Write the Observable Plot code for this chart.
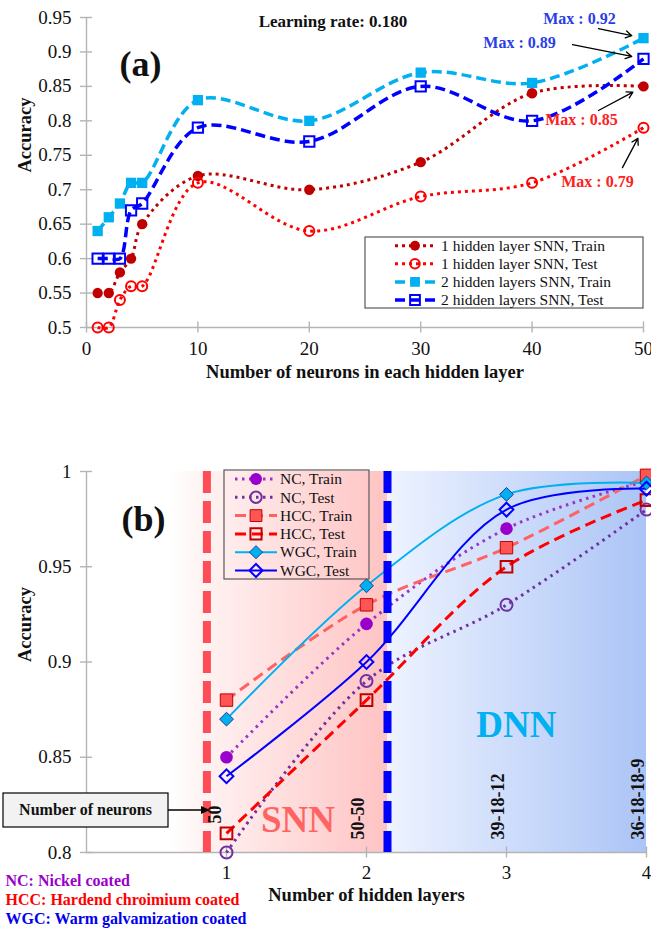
<!DOCTYPE html>
<html><head><meta charset="utf-8">
<script src="https://cdn.jsdelivr.net/npm/d3@7"></script>
<script src="https://cdn.jsdelivr.net/npm/@observablehq/plot@0.6"></script>
<style>
body{margin:0;background:#fff;}
#chart{width:651px;height:935px;position:relative;overflow:hidden;background:#fff;}
#chart svg{display:block;}
</style></head><body><div id="chart"></div>
<script>
// ---------------- Panel (a) data ----------------
const neurons = [1, 2, 3, 4, 5, 10, 20, 30, 40, 50];
const snn1Train = [0.55, 0.55, 0.58, 0.60, 0.65, 0.72, 0.70, 0.74, 0.84, 0.85];
const snn1Test  = [0.50, 0.50, 0.54, 0.56, 0.56, 0.71, 0.64, 0.69, 0.71, 0.79];
const snn2Train = [0.64, 0.66, 0.68, 0.71, 0.71, 0.83, 0.80, 0.87, 0.855, 0.92];
const snn2Test  = [0.60, 0.60, 0.60, 0.67, 0.68, 0.79, 0.77, 0.85, 0.80, 0.89];
const seriesNamesA = ["1 hidden layer SNN, Train", "1 hidden layer SNN, Test", "2 hidden layers SNN, Train", "2 hidden layers SNN, Test"];
const xTicksA = [0, 10, 20, 30, 40, 50];
const yTicksA = [0.5, 0.55, 0.6, 0.65, 0.7, 0.75, 0.8, 0.85, 0.9, 0.95];
const titleA = "Learning rate: 0.180";
const xLabelA = "Number of neurons in each hidden layer";
const yLabel = "Accuracy";
const maxLabels = ["Max : 0.92", "Max : 0.89", "Max : 0.85", "Max : 0.79"];

// ---------------- Panel (b) data ----------------
const layers = [1, 2, 3, 4];
const layerNeurons = ["50", "50-50", "39-18-12", "36-18-18-9"];
const ncTrain  = [0.85, 0.92, 0.97, 0.995];
const ncTest   = [0.80, 0.89, 0.93, 0.98];
const hccTrain = [0.88, 0.93, 0.96, 0.998];
const hccTest  = [0.81, 0.88, 0.95, 0.985];
const wgcTrain = [0.87, 0.94, 0.988, 0.994];
const wgcTest  = [0.84, 0.90, 0.98, 0.991];
const seriesNamesB = ["NC, Train", "NC, Test", "HCC, Train", "HCC, Test", "WGC, Train", "WGC, Test"];
const xTicksB = [1, 2, 3, 4];
const yTicksB = [0.8, 0.85, 0.9, 0.95, 1];
const xLabelB = "Number of hidden layers";
const coatingNotes = ["NC: Nickel coated", "HCC: Hardend chroimium coated", "WGC: Warm galvamization coated"];

// ---------------- styles & annotation placement ----------------
const FONT = "'Liberation Serif', 'Times New Roman', serif";
const axisGray = "#b4b4b4";
const fmt = d => String(+d.toFixed(2));
const diamondSymbol = {draw(ctx, size) {const r = Math.sqrt(size / 2); ctx.moveTo(0, -r); ctx.lineTo(r, 0); ctx.lineTo(0, r); ctx.lineTo(-r, 0); ctx.closePath();}};
const symbols = {circle: d3.symbolCircle, square: d3.symbolSquare, diamond: diamondSymbol};

const styleA = [
  {stroke: "#C00000", dash: "3,4", width: 3, symbol: "circle", r: 5.2, fill: "#C00000", mStroke: "none", mWidth: 0},
  {stroke: "#FF0000", dash: "3,4", width: 3, symbol: "circle", r: 5, fill: "none", mStroke: "#FF0000", mWidth: 2},
  {stroke: "#00B0F0", dash: "10,5", width: 3.5, symbol: "square", r: 5.8, fill: "#00B0F0", mStroke: "none", mWidth: 0},
  {stroke: "#0000FF", dash: "10,5", width: 3.5, symbol: "square", r: 5.8, fill: "none", mStroke: "#0000FF", mWidth: 2}
];
const styleB = [
  {stroke: "#9933CC", dash: "2.5,4.5", width: 3, symbol: "circle", r: 6.3, fill: "#9900CC", mStroke: "none", mWidth: 0},
  {stroke: "#7030A0", dash: "2.5,4.5", width: 3, symbol: "circle", r: 6, fill: "none", mStroke: "#7030A0", mWidth: 2},
  {stroke: "#FF6262", dash: "11,6", width: 3, symbol: "square", r: 7, fill: "#FF5555", mStroke: "#C00000", mWidth: 1},
  {stroke: "#FF0000", dash: "11,6", width: 3, symbol: "square", r: 6.6, fill: "none", mStroke: "#C00000", mWidth: 2},
  {stroke: "#00B0F0", dash: null, width: 2, symbol: "diamond", r: 5.5, fill: "#00B0F0", mStroke: "#1F3A93", mWidth: 1},
  {stroke: "#0000FF", dash: null, width: 2, symbol: "diamond", r: 5.5, fill: "none", mStroke: "#0000FF", mWidth: 2}
];

const maxLabelX = [44.25, 38.87, 44.43, 45.87];
const maxLabelY = [0.948, 0.9136, 0.802, 0.712];
const maxArrowX = [45.96, 43.63, 45.96, 48.11];
const maxArrowY = [0.934, 0.9107, 0.815, 0.732];
const maxColors = ["#2a3ee8", "#2a3ee8", "#ff2020", "#ff2020"];
const noteColors = ["#9900CC", "#FF0000", "#0000EE"];

const snnZone = {x1: 0.6, x2: 2.15};
const dnnZone = {x1: 2.15, x2: 4};
const redBoundary = 0.86, blueBoundary = 2.15;

// ---------------- helpers ----------------
function symbolPath(name, r) { return d3.symbol(symbols[name], Math.PI * r * r)(); }

function legendMark(names, styles, box) {
  return () => {
    const g = d3.create("svg:g").attr("font-family", FONT);
    g.append("rect").attr("x", box.x).attr("y", box.y).attr("width", box.w).attr("height", box.h)
      .attr("fill", box.fill).attr("stroke", "#595959").attr("stroke-width", 1.2);
    names.forEach((name, i) => {
      const y = box.row0 + i * box.rowH, st = styles[i];
      g.append("line").attr("x1", box.lx1).attr("x2", box.lx2).attr("y1", y).attr("y2", y)
        .attr("stroke", st.stroke).attr("stroke-width", st.width).attr("stroke-dasharray", st.dash);
      g.append("path").attr("transform", `translate(${box.mx},${y})`).attr("d", symbolPath(st.symbol, st.r * 0.95))
        .attr("fill", st.fill).attr("stroke", st.mStroke).attr("stroke-width", st.mWidth);
      g.append("text").attr("x", box.tx).attr("y", y).attr("dy", "0.34em").attr("font-size", box.fs)
        .attr("text-anchor", "start").attr("fill", "#111").text(name);
    });
    return g.node();
  };
}

function seriesMarks(xs, valueSets, styles, names) {
  const rows = valueSets.flatMap((vals, s) => xs.map((x, i) => ({series: names[s], s, x, y: vals[i]})));
  const lines = styles.map((st, s) => Plot.line(rows.filter(d => d.s === s), {
    x: "x", y: "y", stroke: st.stroke, strokeWidth: st.width, strokeDasharray: st.dash,
    strokeLinecap: "butt", curve: "catmull-rom"
  }));
  const dots = styles.map((st, s) => Plot.dot(rows.filter(d => d.s === s), {
    x: "x", y: "y", r: st.r, symbol: symbols[st.symbol], fill: st.fill, stroke: st.mStroke, strokeWidth: st.mWidth
  }));
  return {lines, dots};
}

const baseStyle = {fontFamily: FONT, background: "white", color: "black", overflow: "visible"};

// ---------------- Panel (a) ----------------
const A = seriesMarks(neurons, [snn1Train, snn1Test, snn2Train, snn2Test], styleA, seriesNamesA);
const maxTargets = [snn2Train, snn2Test, snn1Train, snn1Test].map(v => v[v.length - 1]);
const arrowsA = maxLabels.map((t, i) => ({x1: maxArrowX[i], y1: maxArrowY[i], x2: neurons[neurons.length - 1], y2: maxTargets[i]}));
const labelsA = maxLabels.map((t, i) => ({t, x: maxLabelX[i], y: maxLabelY[i], c: maxColors[i]}));

const plotA = Plot.plot({
  width: 651, height: 400, marginLeft: 86, marginRight: 8, marginTop: 17, marginBottom: 73,
  x: {domain: [0, 50], label: null}, y: {domain: [0.5, 0.95], label: null},
  style: baseStyle,
  marks: [
    Plot.ruleX([0], {stroke: axisGray, strokeWidth: 1.4}),
    Plot.ruleY([0.5], {stroke: axisGray, strokeWidth: 1.4}),
    Plot.axisX({ticks: xTicksA, tickSize: 11, dy: -5.5, tickFormat: () => "", stroke: axisGray, strokeWidth: 1.4, label: null}),
    Plot.axisX({ticks: xTicksA, tickSize: 0, tickPadding: 14, tickFormat: fmt, fontSize: 19, fill: "#111", label: null}),
    Plot.axisY({ticks: yTicksA, tickSize: 12, dx: 6, tickFormat: () => "", stroke: axisGray, strokeWidth: 1.4, label: null}),
    Plot.axisY({ticks: yTicksA, tickSize: 0, tickPadding: 15, tickFormat: fmt, fontSize: 19, fill: "#111", label: null}),
    ...A.lines,
    ...A.dots,
    Plot.arrow(arrowsA, {x1: "x1", y1: "y1", x2: "x2", y2: "y2", stroke: "#000", strokeWidth: 1.3, headLength: 8, insetEnd: 12}),
    Plot.text(labelsA, {x: "x", y: "y", text: "t", fill: "c", fontSize: 16, fontWeight: "bold"}),
    Plot.text([titleA], {text: d => d, frameAnchor: "top", dx: -32, dy: -3, fontSize: 17, fontWeight: "bold", fill: "#111"}),
    Plot.text(["(a)"], {text: d => d, frameAnchor: "top-left", dx: 33, dy: 33, fontSize: 36, fontWeight: "bold", fill: "#111"}),
    Plot.text([xLabelA], {text: d => d, frameAnchor: "bottom", dy: 50, fontSize: 18.5, fontWeight: "bold", fill: "#111"}),
    Plot.text([yLabel], {text: d => d, frameAnchor: "left", dx: -61, rotate: -90, fontSize: 18.5, fontWeight: "bold", fill: "#111"}),
    legendMark(seriesNamesA, styleA, {x: 365, y: 237, w: 278, h: 71, fill: "white", row0: 245.7, rowH: 18.1, lx1: 395, lx2: 435, mx: 415, tx: 441, fs: 15.5})
  ]
});

// ---------------- Panel (b) ----------------
const B = seriesMarks(layers, [ncTrain, ncTest, hccTrain, hccTest, wgcTrain, wgcTest], styleB, seriesNamesB);

const gradientDefs = () => {
  const defs = d3.create("svg:defs");
  const add = (id, stops) => {
    const lg = defs.append("linearGradient").attr("id", id).attr("x1", "0").attr("x2", "1").attr("y1", "0").attr("y2", "0");
    stops.forEach(([o, c]) => lg.append("stop").attr("offset", o).attr("stop-color", c));
  };
  add("snnGrad", [[0, "#ffffff"], [0.15, "#fff3f3"], [1, "#ffc3c3"]]);
  add("dnnGrad", [[0, "#eef3ff"], [1, "#abc4f6"]]);
  return defs.node();
};

const neuronBox = () => {
  const g = d3.create("svg:g").attr("font-family", FONT);
  g.append("rect").attr("x", 3).attr("y", 393).attr("width", 165).attr("height", 34)
    .attr("fill", "#f2f2f2").attr("stroke", "#000").attr("stroke-width", 1.2);
  g.append("text").attr("x", 85.5).attr("y", 410).attr("dy", "0.34em").attr("text-anchor", "middle")
    .attr("font-size", 16).attr("font-weight", "bold").attr("fill", "#111").text("Number of neurons");
  g.append("line").attr("x1", 168).attr("x2", 203).attr("y1", 410).attr("y2", 410).attr("stroke", "#000").attr("stroke-width", 1.3);
  g.append("path").attr("d", "M210,410 L201,406 L201,414 Z").attr("fill", "#000");
  return g.node();
};

const plotB = Plot.plot({
  width: 651, height: 535, marginLeft: 86, marginRight: 5, marginTop: 71, marginBottom: 83,
  x: {domain: [0, 4], label: null}, y: {domain: [0.8, 1], label: null},
  style: baseStyle,
  marks: [
    gradientDefs,
    Plot.rect([snnZone], {x1: "x1", x2: "x2", fill: "url(#snnGrad)"}),
    Plot.rect([dnnZone], {x1: "x1", x2: "x2", fill: "url(#dnnGrad)"}),
    Plot.ruleX([0], {stroke: axisGray, strokeWidth: 1.4}),
    Plot.ruleY([0.8], {stroke: axisGray, strokeWidth: 1.4}),
    Plot.axisX({ticks: xTicksB, tickSize: 11, dy: -5.5, tickFormat: () => "", stroke: axisGray, strokeWidth: 1.4, label: null}),
    Plot.axisX({ticks: xTicksB, tickSize: 0, tickPadding: 13, tickFormat: fmt, fontSize: 19, fill: "#111", label: null}),
    Plot.axisY({ticks: yTicksB, tickSize: 12, dx: 6, tickFormat: () => "", stroke: axisGray, strokeWidth: 1.4, label: null}),
    Plot.axisY({ticks: yTicksB, tickSize: 0, tickPadding: 15, tickFormat: fmt, fontSize: 19, fill: "#111", label: null}),
    Plot.text(["SNN"], {text: d => d, x: 1.51, y: 0.8168, fill: "#ff6464", fontSize: 37, fontWeight: "bold"}),
    Plot.text(["DNN"], {text: d => d, x: 3.07, y: 0.8668, fill: "#00b0f0", fontSize: 37, fontWeight: "bold"}),
    ...B.lines,
    Plot.ruleX([redBoundary], {stroke: "#ff4d57", strokeWidth: 8, strokeDasharray: "22,8"}),
    Plot.ruleX([blueBoundary], {stroke: "#0000ff", strokeWidth: 8, strokeDasharray: "22,8"}),
    ...B.dots,
    Plot.text(layerNeurons.slice(0, 1), {text: d => d, x: layers.slice(0, 1), frameAnchor: "bottom", dx: -6, dy: -29, rotate: -90, textAnchor: "start", fontSize: 18, fontWeight: "bold", fill: "#111"}),
    Plot.text(layerNeurons.slice(1), {text: d => d, x: layers.slice(1), frameAnchor: "bottom", dx: -3, dy: -13, rotate: -90, textAnchor: "start", fontSize: 18, fontWeight: "bold", fill: "#111"}),
    Plot.text(["(b)"], {text: d => d, frameAnchor: "top-left", dx: 35, dy: 34, fontSize: 36, fontWeight: "bold", fill: "#111"}),
    Plot.text([xLabelB], {text: d => d, frameAnchor: "bottom", dy: 48, fontSize: 18.5, fontWeight: "bold", fill: "#111"}),
    Plot.text([yLabel], {text: d => d, frameAnchor: "left", dx: -61, rotate: -90, fontSize: 18.5, fontWeight: "bold", fill: "#111"}),
    ...coatingNotes.map((t, i) => Plot.text([t], {text: d => d, frameAnchor: "bottom-left", dx: -81, dy: 33 + i * 19.2, textAnchor: "start", fontSize: 16, fontWeight: "bold", fill: noteColors[i]})),
    legendMark(seriesNamesB, styleB, {x: 224, y: 70, w: 145, h: 109, fill: "none", row0: 79, rowH: 18.3, lx1: 235, lx2: 277, mx: 256, tx: 280, fs: 15.5}),
    neuronBox
  ]
});

const chart = document.getElementById("chart");
chart.appendChild(plotA);
chart.appendChild(plotB);
</script></body></html>
